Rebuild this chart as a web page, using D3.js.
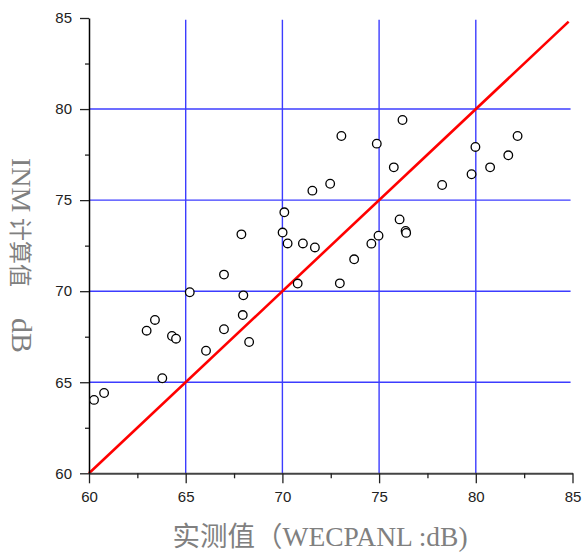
<!DOCTYPE html>
<html>
<head>
<meta charset="utf-8">
<script src="https://cdn.jsdelivr.net/npm/d3@7/dist/d3.min.js"></script>
<style>
html,body{margin:0;padding:0;background:#fff;}
svg{display:block;}
</style>
</head>
<body>
<svg id="chart" width="582" height="554"></svg>
<script>
// ---- data ----
const measured = [60.26,60.78,62.98,63.41,63.79,64.29,64.50,65.21,66.05,66.98,
  66.98,67.88,67.98,67.95,68.28,70.01,70.10,70.27,70.79,71.06,
  71.68,71.55,72.47,72.97,73.05,73.71,74.60,74.88,74.97,75.76,
  76.06,76.21,76.37,76.40,78.26,79.78,79.98,80.74,81.68,82.16];
const computed = [64.03,64.41,67.83,68.42,65.22,67.54,67.39,69.94,66.73,67.91,
  70.91,73.12,69.77,68.69,67.21,73.22,74.33,72.62,70.42,72.62,
  72.40,75.52,75.90,70.43,78.52,71.75,72.61,78.10,73.05,76.80,
  73.94,79.40,73.31,73.20,75.83,76.42,77.92,76.80,77.46,78.52];
const majorTicks = [60,65,70,75,80,85];
const minorTicks = [62.5,67.5,72.5,77.5,82.5];
const gridTicks = [65,70,75,80];
const refLine = [60,84.8];
const xTitle = "实测值（WECPANL :dB)";
const yTitleParts = ["INM", "计算值", "dB"];

// ---- chart ----
const svg = d3.select("#chart");
const x = d3.scaleLinear().domain([60,85]).range([89,572.5]);
const y = d3.scaleLinear().domain([60,85]).range([473.3,18]);

// grid
const grid = svg.append("g").attr("stroke","#3c3cff").attr("stroke-width",1.4);
grid.selectAll("line.v").data(gridTicks).join("line").attr("class","v")
  .attr("x1",d=>x(d)).attr("x2",d=>x(d)).attr("y1",y(84.9)).attr("y2",y(60));
grid.selectAll("line.h").data(gridTicks).join("line").attr("class","h")
  .attr("x1",x(60)).attr("x2",x(84.9)).attr("y1",d=>y(d)).attr("y2",d=>y(d));

// reference line
svg.append("line")
  .attr("x1",x(refLine[0])).attr("y1",y(refLine[0]))
  .attr("x2",x(refLine[1])).attr("y2",y(refLine[1]))
  .attr("stroke","#ff0000").attr("stroke-width",2.6);

// axes
const fontTick = "15px 'Liberation Sans', Arial, sans-serif";
const xAxis = svg.append("g").attr("transform",`translate(0,${y(60)})`)
  .call(d3.axisBottom(x).tickValues(majorTicks).tickSize(10).tickSizeOuter(0).tickPadding(8).tickFormat(d3.format("d")));
const xMinor = svg.append("g").attr("transform",`translate(0,${y(60)})`)
  .call(d3.axisBottom(x).tickValues(minorTicks).tickSize(5).tickSizeOuter(0).tickFormat(""));
xMinor.select(".domain").remove();
[xAxis,xMinor].forEach(g=>{
  g.select(".domain").attr("stroke","#444").attr("stroke-width",2);
  g.selectAll(".tick line").attr("stroke","#222").attr("stroke-width",1.3);
});
xAxis.selectAll(".tick text").style("font",fontTick).attr("fill","#222");

const yAxis = svg.append("g").attr("transform",`translate(${x(60)},0)`)
  .call(d3.axisLeft(y).tickValues(majorTicks).tickSize(9).tickSizeOuter(0).tickPadding(8).tickFormat(d3.format("d")));
const yMinor = svg.append("g").attr("transform",`translate(${x(60)},0)`)
  .call(d3.axisLeft(y).tickValues(minorTicks).tickSize(4).tickSizeOuter(0).tickFormat(""));
yMinor.select(".domain").remove();
[yAxis,yMinor].forEach(g=>{
  g.select(".domain").attr("stroke","#000").attr("stroke-width",1.5);
  g.selectAll(".tick line").attr("stroke","#222").attr("stroke-width",1.3);
});
yAxis.selectAll(".tick text").style("font",fontTick).attr("fill","#222");

// points
svg.append("g").selectAll("circle").data(measured.map((m,i)=>[m,computed[i]])).join("circle")
  .attr("cx",d=>x(d[0])).attr("cy",d=>y(d[1])).attr("r",4.3)
  .attr("fill","#fff").attr("stroke","#000").attr("stroke-width",1.3);

// titles
const titleFont = "'Liberation Serif','Times New Roman','Noto Sans CJK SC',serif";
svg.append("text").attr("x",320).attr("y",546).attr("text-anchor","middle")
  .style("font-family",titleFont).style("font-size","27.5px").attr("fill","#808080")
  .text(xTitle);
const yt = svg.append("text").attr("transform","translate(12,0) rotate(90)")
  .style("font-family",titleFont).attr("fill","#808080");
yt.append("tspan").attr("x",158).style("font-size","28px").text(yTitleParts[0]);
yt.append("tspan").attr("x",218).style("font-size","23px").text(yTitleParts[1]);
yt.append("tspan").attr("x",318).style("font-size","30px").text(yTitleParts[2]);
</script>
</body>
</html>
